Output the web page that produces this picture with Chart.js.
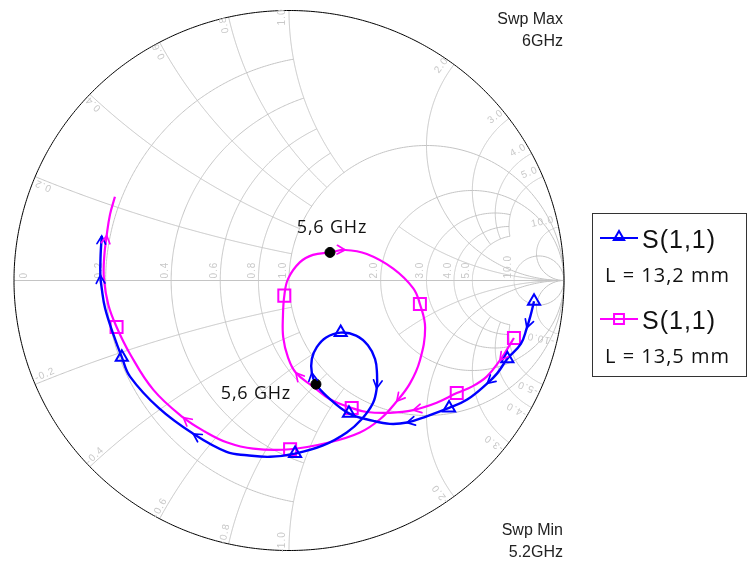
<!DOCTYPE html>
<html>
<head>
<meta charset="utf-8">
<script src="https://cdn.jsdelivr.net/npm/chart.js@4.4.1/dist/chart.umd.min.js"></script>
<style>
  html, body { margin: 0; padding: 0; background: #fff; }
  #wrap { width: 748px; height: 561px; position: relative; }
</style>
</head>
<body>
<div id="wrap"><canvas id="smith"></canvas></div>
<script>
// S(1,1) traces, as reflection coefficient (re / im), 5.2 -> 6 GHz
const s11aRe = [0.891, 0.878, 0.865, 0.843, 0.794, 0.757, 0.721, 0.648, 0.582, 0.503, 0.429, 0.367, 0.307, 0.218, 0.138,
  0.098, 0.083, 0.083, 0.101, 0.135, 0.188, 0.244, 0.287, 0.313, 0.320, 0.319, 0.305, 0.265, 0.210, 0.124, 0.022,
  -0.069, -0.153, -0.227, -0.348, -0.473, -0.578, -0.608, -0.639, -0.669, -0.681, -0.686, -0.685, -0.681];
const s11aIm = [-0.077, -0.131, -0.175, -0.235, -0.290, -0.344, -0.381, -0.441, -0.472, -0.502, -0.526, -0.531, -0.520, -0.492, -0.429,
  -0.384, -0.342, -0.291, -0.247, -0.211, -0.193, -0.204, -0.240, -0.291, -0.345, -0.399, -0.455, -0.513, -0.563, -0.611, -0.641,
  -0.653, -0.647, -0.635, -0.568, -0.473, -0.356, -0.284, -0.199, -0.102, -0.029, 0.019, 0.095, 0.165];
const s11aMarkers = [0, 4, 8, 13, 20, 30, 37];
const s11aArrows = [2, 6, 10, 16, 25, 34, 41, 43];
const s11aAt56 = 15;

const s11bRe = [0.818, 0.793, 0.767, 0.719, 0.665, 0.610, 0.537, 0.452, 0.367, 0.283, 0.228, 0.149, 0.088, 0.025, -0.004,
  -0.021, -0.022, -0.017, -0.003, 0.040, 0.087, 0.149, 0.204, 0.283, 0.379, 0.452, 0.476, 0.495, 0.476, 0.440, 0.392,
  0.331, 0.258, 0.149, 0.004, -0.130, -0.227, -0.305, -0.384, -0.493, -0.578, -0.627, -0.657, -0.673, -0.672, -0.663,
  -0.651, -0.633];
const s11bIm = [-0.213, -0.255, -0.296, -0.356, -0.393, -0.417, -0.453, -0.480, -0.490, -0.487, -0.472, -0.440, -0.393, -0.342, -0.284,
  -0.211, -0.131, -0.056, 0.007, 0.068, 0.095, 0.104, 0.113, 0.098, 0.044, -0.029, -0.087, -0.175, -0.296, -0.381, -0.447,
  -0.514, -0.563, -0.599, -0.625, -0.623, -0.599, -0.560, -0.508, -0.405, -0.272, -0.172, -0.090, 0.007, 0.087, 0.167,
  0.244, 0.310];
const s11bMarkers = [0, 5, 10, 17, 26, 34, 41];
const s11bArrows = [2, 7, 13, 22, 30, 38, 45];
const s11bAt56 = 21;

const legendNames = ['S(1,1)', 'S(1,1)'];
const legendNotes = ['L = 13,2 mm', 'L = 13,5 mm'];
const freqLabel = '5,6 GHz';
const sweepMax = ['Swp Max', '6GHz'];
const sweepMin = ['Swp Min', '5.2GHz'];

// smith grid: resistance circles and reactance arcs, with how far each one runs
const gridR = [0.2, 0.4, 0.6, 0.8, 1, 2, 3, 4, 5, 10];
const gridRLimit = [1, 1, 1, 1, Infinity, Infinity, 5, 5, 5, Infinity];
const gridX = [0.2, 0.4, 0.6, 0.8, 1, 2, 3, 4, 5, 10];
const gridXSpans = [[[0, 1]], [[0, 1]], [[0, 1]], [[0, 1]], [[0, 1], [2, Infinity]], [[0, Infinity]],
  [[0, 5]], [[0, 5]], [[0, 5]], [[0, Infinity]]];
const rLabels = ['0', '0.2', '0.4', '0.6', '0.8', '1.0', '2.0', '3.0', '4.0', '5.0', '10.0'];
const rLabelVals = [0, 0.2, 0.4, 0.6, 0.8, 1, 2, 3, 4, 5, 10];

const BLUE = '#0000ff';
const MAGENTA = '#ff00ff';
const GRID = '#c4c4c4';

const toPts = (re, im) => re.map((v, i) => ({ x: v, y: im[i] }));
const gamma = (r, x) => {
  const d = (r + 1) * (r + 1) + x * x;
  return [(r * r - 1 + x * x) / d, 2 * x / d];
};

const smithGrid = {
  id: 'smithGrid',
  beforeDatasetsDraw(chart) {
    const { ctx, scales: { x, y } } = chart;
    const path = pts => {
      ctx.beginPath();
      pts.forEach(([a, b], i) => {
        const X = x.getPixelForValue(a), Y = y.getPixelForValue(b);
        i ? ctx.lineTo(X, Y) : ctx.moveTo(X, Y);
      });
      ctx.stroke();
    };
    ctx.save();
    ctx.strokeStyle = GRID;
    ctx.lineWidth = 1;
    gridR.forEach((r, k) => {
      const m = Math.atan(gridRLimit[k]);
      const pts = [];
      for (let i = 0; i <= 400; i++) pts.push(gamma(r, Math.tan(-m + 2 * m * i / 400)));
      path(pts);
    });
    gridX.forEach((xv, k) => {
      gridXSpans[k].forEach(([r0, r1]) => {
        const a0 = Math.atan(r0), a1 = Math.atan(r1);
        [1, -1].forEach(s => {
          const pts = [];
          for (let i = 0; i <= 300; i++) pts.push(gamma(Math.tan(a0 + (a1 - a0) * i / 300), s * xv));
          path(pts);
        });
      });
    });
    path([[-1, 0], [1, 0]]);

    // outer rim
    ctx.strokeStyle = '#000';
    const rim = [];
    for (let i = 0; i <= 720; i++) rim.push([Math.cos(i * Math.PI / 360), Math.sin(i * Math.PI / 360)]);
    path(rim);

    // grid labels
    const cx = x.getPixelForValue(0), cy = y.getPixelForValue(0);
    const R = x.getPixelForValue(1) - cx;
    ctx.fillStyle = '#c8c8c8';
    ctx.font = '10px "Liberation Sans", Arial, sans-serif';
    ctx.letterSpacing = '1px';
    ctx.textBaseline = 'middle';
    rLabelVals.forEach((r, k) => {
      const px = x.getPixelForValue((r - 1) / (r + 1));
      ctx.save();
      ctx.translate(px, cy - 2);
      ctx.rotate(-Math.PI / 2);
      ctx.textAlign = 'left';
      ctx.fillText(rLabels[k], 0, r === 0 ? 10 : -6);
      ctx.restore();
    });
    gridX.forEach(xv => {
      [1, -1].forEach(s => {
        const g = gamma(0, s * xv);
        const th = Math.atan2(g[1], g[0]);
        const label = (s < 0 ? '-' : '') + xv.toFixed(1);
        ctx.save();
        ctx.translate(cx + (R - 3) * Math.cos(th), cy - (R - 3) * Math.sin(th));
        if (s > 0) { ctx.rotate(-th); ctx.textAlign = 'right'; }
        else { ctx.rotate(-(th + Math.PI)); ctx.textAlign = 'left'; }
        ctx.fillText(label, 0, -7);
        ctx.restore();
      });
    });
    ctx.restore();
  }
};

const arrowHeads = {
  id: 'arrowHeads',
  afterDatasetsDraw(chart) {
    const ctx = chart.ctx;
    chart.data.datasets.forEach((ds, di) => {
      if (!ds.arrows) return;
      const pts = chart.getDatasetMeta(di).data;
      ctx.save();
      ctx.strokeStyle = ds.borderColor;
      ctx.lineWidth = 1.7;
      ctx.lineCap = 'round';
      ds.arrows.forEach(i => {
        const a = pts[Math.max(i - 1, 0)], b = pts[Math.min(i + 1, pts.length - 1)], p = pts[i];
        const ang = Math.atan2(b.y - a.y, b.x - a.x);
        const L = 9, w = 0.5;
        ctx.beginPath();
        ctx.moveTo(p.x - L * Math.cos(ang - w), p.y - L * Math.sin(ang - w));
        ctx.lineTo(p.x, p.y);
        ctx.lineTo(p.x - L * Math.cos(ang + w), p.y - L * Math.sin(ang + w));
        ctx.stroke();
      });
      ctx.restore();
    });
  }
};

const texts = {
  id: 'texts',
  afterDraw(chart) {
    const { ctx, scales: { x, y } } = chart;
    ctx.save();
    ctx.fillStyle = '#111';

    // 5,6 GHz markers
    ctx.font = '18px "Open Sans", sans-serif';
    ctx.letterSpacing = '0.8px';
    ctx.textAlign = 'center';
    ctx.textBaseline = 'middle';
    const bx = x.getPixelForValue(s11bRe[s11bAt56]), by = y.getPixelForValue(s11bIm[s11bAt56]);
    ctx.fillText(freqLabel, bx + 2, by - 25);
    const ax = x.getPixelForValue(s11aRe[s11aAt56]), ay = y.getPixelForValue(s11aIm[s11aAt56]);
    ctx.fillText(freqLabel, ax - 60, ay + 10);

    // sweep limits
    ctx.letterSpacing = '0px';
    ctx.font = '16px "Liberation Sans", Arial, sans-serif';
    ctx.textAlign = 'right';
    ctx.textBaseline = 'alphabetic';
    ctx.fillStyle = '#222';
    ctx.fillText(sweepMax[0], 563, 24);
    ctx.fillText(sweepMax[1], 563, 46);
    ctx.fillText(sweepMin[0], 563, 535);
    ctx.fillText(sweepMin[1], 563, 557);

    // legend
    ctx.strokeStyle = '#333';
    ctx.lineWidth = 1;
    ctx.strokeRect(592.5, 213.5, 154, 163);
    const rows = [238, 319];
    const cols = [BLUE, MAGENTA];
    rows.forEach((ly, i) => {
      ctx.strokeStyle = cols[i];
      ctx.lineWidth = 2;
      ctx.beginPath();
      ctx.moveTo(600, ly);
      ctx.lineTo(638, ly);
      ctx.stroke();
      ctx.fillStyle = 'rgba(255,255,255,0)';
      Chart.helpers.drawPoint(ctx, {
        pointStyle: i === 0 ? 'triangle' : 'rect', radius: i === 0 ? 6 : 7, borderWidth: 2
      }, 619, i === 0 ? ly - 1 : ly);
      ctx.fillStyle = '#111';
      ctx.textAlign = 'left';
      ctx.font = '25px "Liberation Sans", Arial, sans-serif';
      ctx.letterSpacing = '1px';
      ctx.fillText(legendNames[i], 642, ly + 10);
      ctx.font = '20px "Open Sans", sans-serif';
      ctx.letterSpacing = '1px';
      ctx.fillText(legendNotes[i], 605, ly + 44);
    });
    ctx.restore();
  }
};

new Chart(document.getElementById('smith'), {
  type: 'scatter',
  data: {
    datasets: [
      {
        data: [{ x: s11aRe[s11aAt56], y: s11aIm[s11aAt56] }, { x: s11bRe[s11bAt56], y: s11bIm[s11bAt56] }],
        pointRadius: 5, backgroundColor: '#000', borderColor: '#000', order: 0
      },
      {
        label: legendNames[0], data: toPts(s11aRe, s11aIm), showLine: true, tension: 0.4,
        borderColor: BLUE, borderWidth: 2.4, order: 1, clip: false, arrows: s11aArrows,
        pointStyle: 'triangle', pointRadius: c => s11aMarkers.includes(c.dataIndex) ? 7 : 0,
        pointBorderColor: BLUE, pointBackgroundColor: 'rgba(0,0,0,0)', pointBorderWidth: 2
      },
      {
        label: legendNames[1], data: toPts(s11bRe, s11bIm), showLine: true, tension: 0.4,
        borderColor: MAGENTA, borderWidth: 2.2, order: 2, clip: false, arrows: s11bArrows,
        pointStyle: 'rect', pointRadius: c => s11bMarkers.includes(c.dataIndex) ? 8.5 : 0,
        pointBorderColor: MAGENTA, pointBackgroundColor: 'rgba(0,0,0,0)', pointBorderWidth: 2
      }
    ]
  },
  options: {
    responsive: true,
    maintainAspectRatio: false,
    animation: false,
    events: [],
    layout: { padding: { left: 14, right: 184, top: 7.5, bottom: 4 } },
    scales: {
      x: { type: 'linear', min: -1, max: 1, display: false },
      y: { type: 'linear', min: -1, max: 1, display: false }
    },
    plugins: { legend: { display: false }, tooltip: { enabled: false } }
  },
  plugins: [smithGrid, arrowHeads, texts]
});
</script>
</body>
</html>
